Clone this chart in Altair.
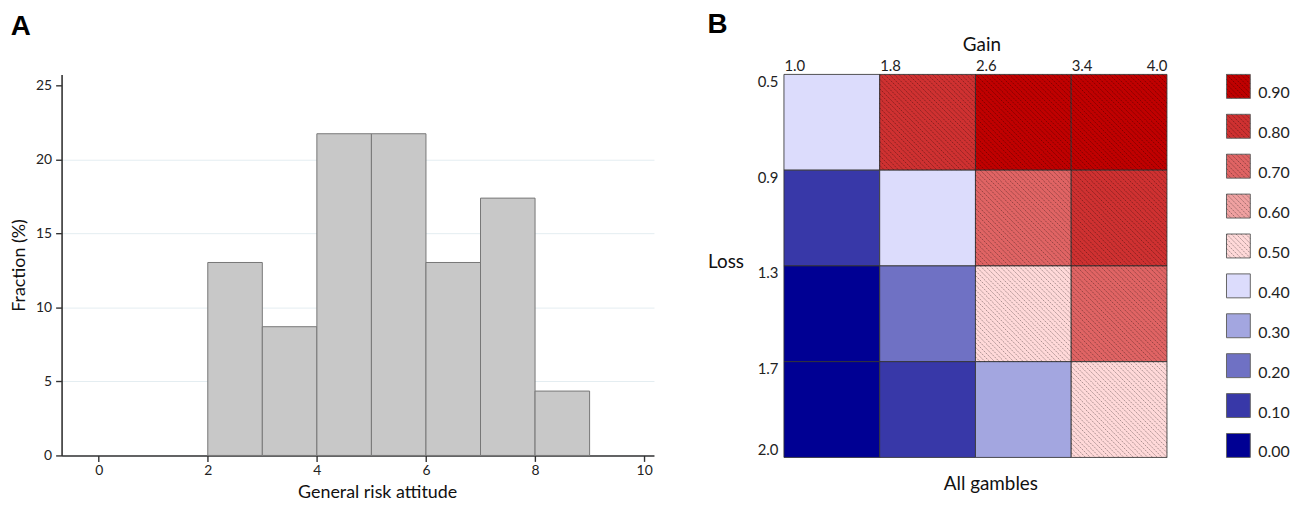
import json
import altair as alt
import pandas as pd

# ---------------- Panel A data ----------------
bin_start = [2, 3, 4, 5, 6, 7, 8]
bin_end = [3, 4, 5, 6, 7, 8, 9]
fraction = [13.04, 8.70, 21.74, 21.74, 13.04, 17.39, 4.35]

# ---------------- Panel B data ----------------
gain_edges = ["1.0", "1.8", "2.6", "3.4", "4.0"]
loss_edges = ["0.5", "0.9", "1.3", "1.7", "2.0"]
row_loss_05 = [0.40, 0.80, 0.90, 0.90]
row_loss_09 = [0.10, 0.40, 0.70, 0.80]
row_loss_13 = [0.00, 0.20, 0.50, 0.70]
row_loss_17 = [0.00, 0.10, 0.30, 0.50]

levels = ["0.90", "0.80", "0.70", "0.60", "0.50", "0.40", "0.30", "0.20", "0.10", "0.00"]
level_colors = ["#c00000", "#cf3131", "#e06464", "#f0a1a1", "#ffd9d9",
                "#dcdcfc", "#a3a6e0", "#6f71c4", "#3838a8", "#000093"]

FONT = "Lato"

# ---------------- Panel A ----------------
hist_df = pd.DataFrame({"start": bin_start, "end": bin_end, "fraction": fraction})

panel_a = alt.Chart(hist_df).mark_rect(
    fill="#c8c8c8", stroke="#777777", strokeWidth=1
).encode(
    x=alt.X("start:Q",
            scale=alt.Scale(domain=[-0.68, 10.18], nice=False, zero=False),
            axis=alt.Axis(values=[0, 2, 4, 6, 8, 10], title="General risk attitude",
                          grid=False, tickSize=6, labelPadding=2, titlePadding=6,
                          titleX=318)),
    x2="end:Q",
    y=alt.Y("fraction:Q",
            scale=alt.Scale(domain=[0, 25.75], nice=False),
            axis=alt.Axis(values=[0, 5, 10, 15, 20, 25], title="Fraction (%)",
                          grid=True,
                          gridColor={"condition": {"test": "datum.value === 25", "value": "transparent"},
                                     "value": "#e4edf1"},
                          tickSize=6, labelPadding=4, titlePadding=7)),
    y2=alt.datum(0),
).properties(
    width=597, height=384,
    title=alt.TitleParams("A", anchor="start", frame="bounds", fontSize=28,
                          font="Liberation Sans", fontWeight="bold", offset=34),
)

# ---------------- Panel B heatmap ----------------
cells = []
for r, row in enumerate([row_loss_05, row_loss_09, row_loss_13, row_loss_17]):
    for c, v in enumerate(row):
        cells.append({"col": c, "col_end": c + 1, "row": r, "row_end": r + 1,
                      "v": v, "level": f"{v:.2f}"})
cells_df = pd.DataFrame(cells)

color_scale = alt.Scale(domain=levels, range=level_colors)
xs = alt.Scale(domain=[0, 4], nice=False, zero=False)
ys = alt.Scale(domain=[0, 4], nice=False, zero=False, reverse=True)

heat_rect = alt.Chart(cells_df).mark_rect(
    stroke="#333333", strokeWidth=1, strokeOpacity=0.85
).encode(
    x=alt.X("col:Q", scale=xs,
            axis=alt.Axis(orient="top", values=[0, 1, 2, 3, 4],
                          labelExpr=json.dumps(gain_edges) + "[datum.value]",
                          labelAlign={"condition": {"test": "datum.value === 4", "value": "right"},
                                      "value": "left"},
                          labelFontSize=15, labelPadding=1,
                          ticks=False, domain=False, grid=False,
                          title="Gain", titleFontSize=19, titlePadding=4, titleX=199)),
    x2="col_end:Q",
    y=alt.Y("row:Q", scale=ys,
            axis=alt.Axis(values=[0, 1, 2, 3, 4],
                          labelExpr=json.dumps(loss_edges) + "[datum.value]",
                          labelBaseline={"condition": {"test": "datum.value === 4", "value": "bottom"},
                                         "value": "top"},
                          labelFontSize=15, labelPadding=6,
                          ticks=False, domain=False, grid=False,
                          title="Loss", titleFontSize=19, titleAngle=0,
                          titleAlign="left", titleBaseline="middle",
                          titleX=-77, titleY=189)),
    y2="row_end:Q",
    color=alt.Color("level:N", scale=color_scale, legend=None),
)

heat_hatch = alt.Chart(cells_df).transform_filter(
    "datum.v >= 0.5"
).transform_calculate(
    k="sequence(1, 40)"
).transform_flatten(
    ["k"]
).transform_calculate(
    c="-1 + datum.k / 20"
).transform_calculate(
    hx0="datum.col + max(datum.c, 0)",
    hy0="datum.row + max(-datum.c, 0)",
    hx1="datum.col + min(1, 1 + datum.c)",
    hy1="datum.row + min(1, 1 - datum.c)",
).mark_rule(
    stroke="#000000", strokeOpacity=0.34, strokeWidth=1, strokeDash=[2, 1]
).encode(
    x=alt.X("hx0:Q", scale=xs,
            axis=alt.Axis(orient="bottom", labels=False, ticks=False, domain=False,
                          grid=False, title="All gambles", titleFontSize=19,
                          titlePadding=17, titleX=208)),
    x2="hx1:Q",
    y=alt.Y("hy0:Q", scale=ys, axis=None),
    y2="hy1:Q",
)

heatmap = alt.layer(heat_rect, heat_hatch).resolve_axis(
    x="independent", y="independent"
).properties(
    width=386, height=386,
    title=alt.TitleParams("B", anchor="start", frame="bounds", fontSize=28,
                          font="Liberation Sans", fontWeight="bold", offset=-3),
)

# ---------------- Panel B legend ----------------
legend_df = pd.DataFrame({"level": levels, "i": list(range(len(levels)))})
SW = 0.6
lx = alt.Scale(domain=[0, SW], nice=False, zero=False)
ly = alt.Scale(domain=[0, len(levels) - 1 + SW], nice=False, zero=False, reverse=True)

leg_base = alt.Chart(legend_df).transform_calculate(
    y0="datum.i", y1=f"datum.i + {SW}", x0="0", x1=f"{SW}"
)

leg_rect = leg_base.mark_rect(stroke="#666666", strokeWidth=1).encode(
    x=alt.X("x0:Q", scale=lx, axis=None),
    x2="x1:Q",
    y=alt.Y("y0:Q", scale=ly, axis=None),
    y2="y1:Q",
    color=alt.Color("level:N", scale=color_scale, legend=None),
)

leg_hatch = leg_base.transform_filter(
    "datum.i <= 4"
).transform_calculate(
    k="sequence(1, 10)"
).transform_flatten(
    ["k"]
).transform_calculate(
    c=f"-{SW} + datum.k * 0.12"
).transform_calculate(
    hx0="max(datum.c, 0)",
    hy0="datum.i + max(-datum.c, 0)",
    hx1=f"min({SW}, {SW} + datum.c)",
    hy1=f"datum.i + min({SW}, {SW} - datum.c)",
).mark_rule(
    stroke="#000000", strokeOpacity=0.34, strokeWidth=1, strokeDash=[2, 1]
).encode(
    x=alt.X("hx0:Q", scale=lx, axis=None),
    x2="hx1:Q",
    y=alt.Y("hy0:Q", scale=ly, axis=None),
    y2="hy1:Q",
)

leg_text = leg_base.mark_text(
    align="left", baseline="alphabetic", dx=8, fontSize=16, font=FONT, color="#222222"
).encode(
    x=alt.X("x1:Q", scale=lx, axis=None),
    y=alt.Y("y1:Q", scale=ly, axis=None),
    text="level:N",
)

legend_view = alt.layer(leg_rect, leg_hatch, leg_text).properties(width=24, height=386)

panel_b = alt.hconcat(heatmap, legend_view, spacing=60, bounds="flush")

chart = alt.hconcat(panel_a, panel_b, spacing=131, bounds="flush").properties(
    padding={"left": 2, "top": 1, "right": 0, "bottom": 0}
).configure(
    font=FONT, background="white"
).configure_view(
    stroke=None
).configure_axis(
    labelFont=FONT, titleFont=FONT, labelFontSize=14, titleFontSize=18,
    labelColor="#222222", titleColor="#111111", titleFontWeight="normal",
    domainColor="#333333", domainWidth=1.6, tickColor="#333333", tickWidth=1.4,
)

chart.save("out.html", embed_options={"renderer": "svg", "actions": False})
